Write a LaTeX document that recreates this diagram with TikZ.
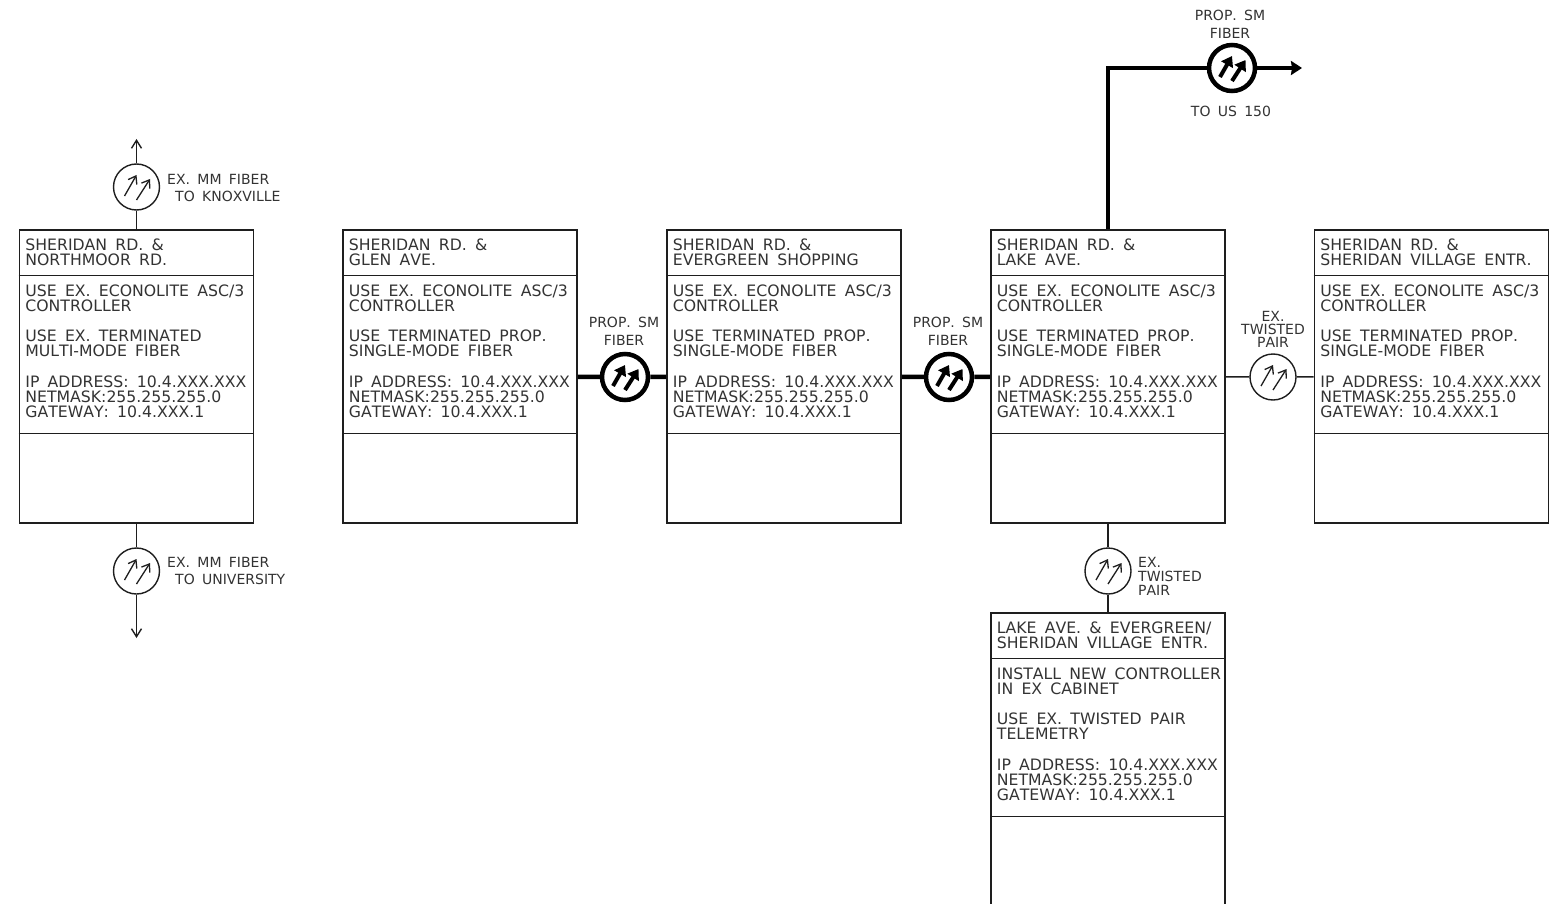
\documentclass[tikz,border=0pt]{standalone}
\usepackage{fontspec}
\setmainfont[WordSpace=1.65,Kerning=Off]{DejaVu Sans}
\usepackage{xcolor}
\usetikzlibrary{arrows.meta,positioning,calc}
\definecolor{ink}{HTML}{1E1E1E}
\definecolor{inkgray}{HTML}{333333}
\tikzset{
  ctrlbox/.style={draw=ink,line width=1.6pt,minimum width=234pt,minimum height=293pt,
                  inner sep=0pt},
  boxtext/.style={anchor=north west,align=left,inner sep=0pt,text=inkgray,
                  font=\fontsize{15.7}{15.2}\selectfont},
  labeltext/.style={align=center,inner sep=0pt,text=inkgray,
                    font=\fontsize{14}{#1}\selectfont},
  labeltext/.default=17,
  exfiber/.style={draw=ink,circle,line width=1.4pt,minimum size=46pt,inner sep=0pt},
  propfiber/.style={draw=black,circle,line width=4.5pt,minimum size=46pt,inner sep=0pt},
  exline/.style={draw=ink,line width=1.5pt},
  propline/.style={draw=black,line width=4.5pt},
  exarr/.style={-{Straight Barb[length=8pt,width=10pt]},line width=1.4pt,color=ink},
  proparr/.style={-{Stealth[length=11pt,width=14pt,inset=1pt]},line width=4.5pt,color=black}
}
% one controller cabinet: name, centre, title, body
\newcommand{\ctrl}[4]{%
  \node[ctrlbox] (#1) at (#2) {};
  \draw[exline] ([yshift=-46.5pt]#1.north west) -- ([yshift=-46.5pt]#1.north east);
  \draw[exline] ([yshift=-204.5pt]#1.north west) -- ([yshift=-204.5pt]#1.north east);
  \node[boxtext] (#1title) at ([xshift=6.5pt,yshift=-9.5pt]#1.north west) {#3};
  \node[boxtext] (#1body) at ([xshift=6.5pt,yshift=-55pt]#1.north west) {#4};
}
% the pair of arrows inside a fiber circle
\newcommand{\fiberpair}[2]{%
  \draw[#2] ([shift={(-12pt,-9pt)}]#1.center) -- ++(12pt,21pt);
  \draw[#2] ([shift={(0pt,-13pt)}]#1.center) -- ++(13.5pt,21pt);
}
\newcommand{\iprows}{IP ADDRESS: 10.4.XXX.XXX\\NETMASK:255.255.255.0\\GATEWAY: 10.4.XXX.1}
\newcommand{\econo}{USE EX. ECONOLITE ASC/3\\CONTROLLER}
\newcommand{\single}{USE TERMINATED PROP.\\SINGLE-MODE FIBER}
\begin{document}
\begin{tikzpicture}[x=1pt,y=-1pt]
  \useasboundingbox (0,0) rectangle (1568,904);
  \ctrl{northmoor}{136.5,376.5}{SHERIDAN RD. \&\\NORTHMOOR RD.}
    {\econo\\[15.2pt]USE EX. TERMINATED\\MULTI-MODE FIBER\\[15.2pt]\iprows}
  \ctrl{glen}{460,376.5}{SHERIDAN RD. \&\\GLEN AVE.}
    {\econo\\[15.2pt]\single\\[15.2pt]\iprows}
  \ctrl{evergreen}{784,376.5}{SHERIDAN RD. \&\\EVERGREEN SHOPPING}
    {\econo\\[15.2pt]\single\\[15.2pt]\iprows}
  \ctrl{lake}{1108,376.5}{SHERIDAN RD. \&\\LAKE AVE.}
    {\econo\\[15.2pt]\single\\[15.2pt]\iprows}
  \ctrl{village}{1431.5,376.5}{SHERIDAN RD. \&\\SHERIDAN VILLAGE ENTR.}
    {\econo\\[15.2pt]\single\\[15.2pt]\iprows}
  \ctrl{telemetry}{1108,759.5}{LAKE AVE. \& EVERGREEN/\\SHERIDAN VILLAGE ENTR.}
    {INSTALL NEW CONTROLLER\\IN EX CABINET\\[15.2pt]USE EX. TWISTED PAIR\\TELEMETRY\\[15.2pt]\iprows}

  \node[exfiber] (knox) at (136.5,187) {};
  \node[exfiber] (univ) at (136.5,571) {};
  \node[exfiber] (twistA) at (1273,377) {};
  \node[exfiber] (twistB) at (1108,571) {};
  \node[propfiber] (smA) at (625,377) {};
  \node[propfiber] (smB) at (949,377) {};
  \node[propfiber] (smC) at (1232,68) {};
  \foreach \fib in {knox,univ,twistA,twistB} {
    \fiberpair{\fib}{->,>={Straight Barb[length=7pt,width=10pt]},line width=1.3pt,color=ink}
  }
  \foreach \fib in {smA,smB,smC} {
    \fiberpair{\fib}{->,>={Stealth[length=10pt,width=13pt,inset=0pt]},line width=4pt,color=black}
  }

  \coordinate (knoxend) at (136.5,139);
  \coordinate (univend) at (136.5,638);
  \coordinate (usend) at (1302,68);
  \draw[exarr] (knox) -- (knoxend);
  \draw[exline] (knox) -- (northmoor);
  \draw[exarr] (univ) -- (univend);
  \draw[exline] (univ) -- (northmoor);
  \draw[propline] (glen) -- (smA);
  \draw[propline] (smA) -- (evergreen);
  \draw[propline] (evergreen) -- (smB);
  \draw[propline] (smB) -- (lake);
  \draw[exline] (lake) -- (twistA);
  \draw[exline] (twistA) -- (village);
  \draw[exline] (lake) -- (twistB);
  \draw[exline] (twistB) -- (telemetry);
  \draw[propline] (lake.north) |- (smC);
  \draw[proparr] (smC) -- (usend);

  \node[labeltext,align=left,anchor=west] (knoxlab) at (167,187.5) {EX. MM FIBER\\\hspace{8pt}TO KNOXVILLE};
  \node[labeltext,align=left,anchor=west] (univlab) at (167,571) {EX. MM FIBER\\\hspace{8pt}TO UNIVERSITY};
  \node[labeltext=18] (smAlab) at (624,331) {PROP. SM\\FIBER};
  \node[labeltext=18] (smBlab) at (948,331) {PROP. SM\\FIBER};
  \node[labeltext=18] (smClab) at (1230,24) {PROP. SM\\FIBER};
  \node[labeltext] (uslab) at (1231,111) {TO US 150};
  \node[labeltext=13] (twistAlab) at (1273,329) {EX.\\TWISTED\\PAIR};
  \node[labeltext=14,align=left,anchor=west] (twistBlab) at (1138,576) {EX.\\TWISTED\\PAIR};
\end{tikzpicture}
\end{document}
